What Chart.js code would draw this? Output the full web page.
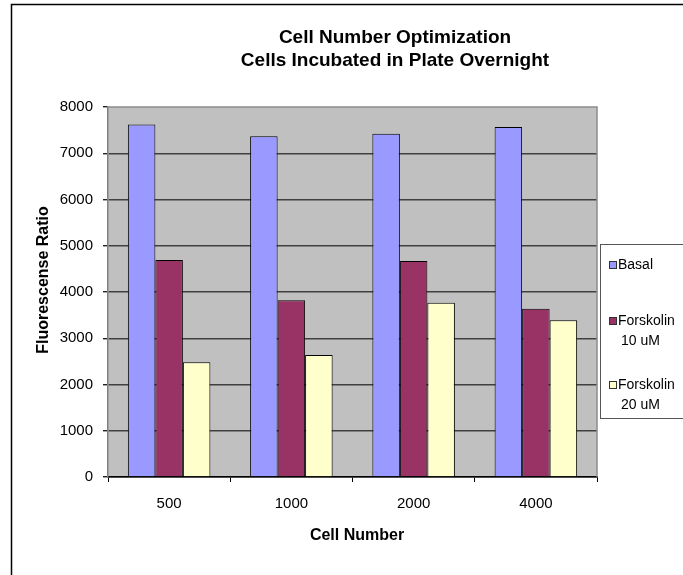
<!DOCTYPE html>
<html>
<head>
<meta charset="utf-8">
<script src="https://cdn.jsdelivr.net/npm/chart.js@4.4.1/dist/chart.umd.min.js"></script>
<style>
  html, body { margin: 0; padding: 0; background: #ffffff; }
  canvas { display: block; }
</style>
</head>
<body>
<canvas id="c" width="683" height="575"></canvas>
<script>
// ---- data ----
const categories = ['500', '1000', '2000', '4000'];
const basal = [7620, 7370, 7420, 7570];
const forskolin10 = [4690, 3820, 4670, 3640];
const forskolin20 = [2480, 2640, 3770, 3390];
const seriesLabels = [['Basal'], ['Forskolin', '10 uM'], ['Forskolin', '20 uM']];
const seriesColors = ['#9999FF', '#993366', '#FFFFCC'];
const titleLines = ['Cell Number Optimization', 'Cells Incubated in Plate Overnight'];
const xTitle = 'Cell Number';
const yTitle = 'Fluorescense Ratio';
const yMin = 0, yMax = 8000, yStep = 1000;

const FONT = '"Liberation Sans", Arial, sans-serif';

const decor = {
  id: 'decor',
  beforeDraw(chart) {
    const ctx = chart.ctx;
    const a = chart.chartArea;
    ctx.save();
    ctx.fillStyle = '#ffffff';
    ctx.fillRect(0, 0, chart.width, chart.height);
    ctx.fillStyle = '#C0C0C0';
    ctx.fillRect(a.left, a.top, a.right - a.left, a.bottom - a.top);
    ctx.restore();
  },
  afterDraw(chart) {
    const ctx = chart.ctx;
    const a = chart.chartArea;
    ctx.save();
    // plot area top/right border
    ctx.strokeStyle = '#8c8c8c';
    ctx.lineWidth = 1.5;
    ctx.beginPath();
    ctx.moveTo(a.left, a.top);
    ctx.lineTo(a.right, a.top);
    ctx.lineTo(a.right, a.bottom);
    ctx.stroke();

    // outer chart border (left + top)
    ctx.strokeStyle = '#000000';
    ctx.lineWidth = 1.5;
    ctx.beginPath();
    ctx.moveTo(11.5, chart.height);
    ctx.lineTo(11.5, 4.5);
    ctx.lineTo(chart.width, 4.5);
    ctx.stroke();

    // main title
    ctx.fillStyle = '#000000';
    ctx.textAlign = 'center';
    ctx.textBaseline = 'middle';
    ctx.font = 'bold 19px ' + FONT;
    ctx.fillText(titleLines[0], 395, 38);
    ctx.fillText(titleLines[1], 395, 61);

    // axis titles
    ctx.font = 'bold 16px ' + FONT;
    ctx.fillText(xTitle, 357, 536);
    ctx.save();
    ctx.translate(44, 280);
    ctx.rotate(-Math.PI / 2);
    ctx.fillText(yTitle, 0, 0);
    ctx.restore();

    // legend
    ctx.fillStyle = '#ffffff';
    ctx.fillRect(600.5, 244.5, 100, 174);
    ctx.strokeStyle = '#555555';
    ctx.lineWidth = 1;
    ctx.strokeRect(600.5, 244.5, 100, 174);
    const rows = [265, 321, 385];
    ctx.font = '14px ' + FONT;
    ctx.textAlign = 'left';
    ctx.textBaseline = 'middle';
    chart.data.datasets.forEach((ds, i) => {
      const y = rows[i];
      ctx.fillStyle = ds.backgroundColor;
      ctx.fillRect(609.5, y - 3.5, 7, 7);
      ctx.strokeStyle = '#333333';
      ctx.strokeRect(609.5, y - 3.5, 7, 7);
      ctx.fillStyle = '#000000';
      const lines = Array.isArray(ds.label) ? ds.label : [ds.label];
      lines.forEach((t, j) => {
        ctx.fillText(t, j === 0 ? 618 : 621, y + j * 20);
      });
    });
    ctx.restore();
  }
};

const datasets = [basal, forskolin10, forskolin20].map((vals, i) => ({
  label: seriesLabels[i],
  data: vals,
  backgroundColor: seriesColors[i],
  borderColor: '#000000',
  borderWidth: 1,
  categoryPercentage: 0.675,
  barPercentage: 1.0
}));

new Chart(document.getElementById('c'), {
  type: 'bar',
  data: { labels: categories, datasets },
  options: {
    responsive: false,
    devicePixelRatio: 1,
    animation: false,
    layout: { padding: { left: 0, top: 107, right: 86, bottom: 0 } },
    plugins: {
      legend: { display: false },
      title: { display: false },
      tooltip: { enabled: false }
    },
    scales: {
      x: {
        offset: true,
        afterFit(s) { s.height = 98; },
        grid: {
          display: true,
          offset: true,
          drawOnChartArea: false,
          drawTicks: true,
          tickLength: 5,
          color: '#000000',
          tickColor: '#000000'
        },
        border: { display: true, color: '#000000', width: 1.5 },
        ticks: {
          color: '#000000',
          padding: 13,
          font: { family: FONT, size: 15 }
        }
      },
      y: {
        min: yMin,
        max: yMax,
        afterFit(s) { s.width = 108; },
        grid: {
          drawTicks: true,
          tickLength: 5,
          color: (c) => (c.tick && c.tick.value === yMax ? 'rgba(0,0,0,0)' : '#404040'),
          lineWidth: 1.4,
          tickColor: '#222222'
        },
        border: { display: true, color: '#808080', width: 1.5 },
        ticks: {
          stepSize: yStep,
          color: '#000000',
          padding: 10,
          font: { family: FONT, size: 15 },
          callback: (v) => String(v)
        }
      }
    }
  },
  plugins: [decor]
});
</script>
</body>
</html>
